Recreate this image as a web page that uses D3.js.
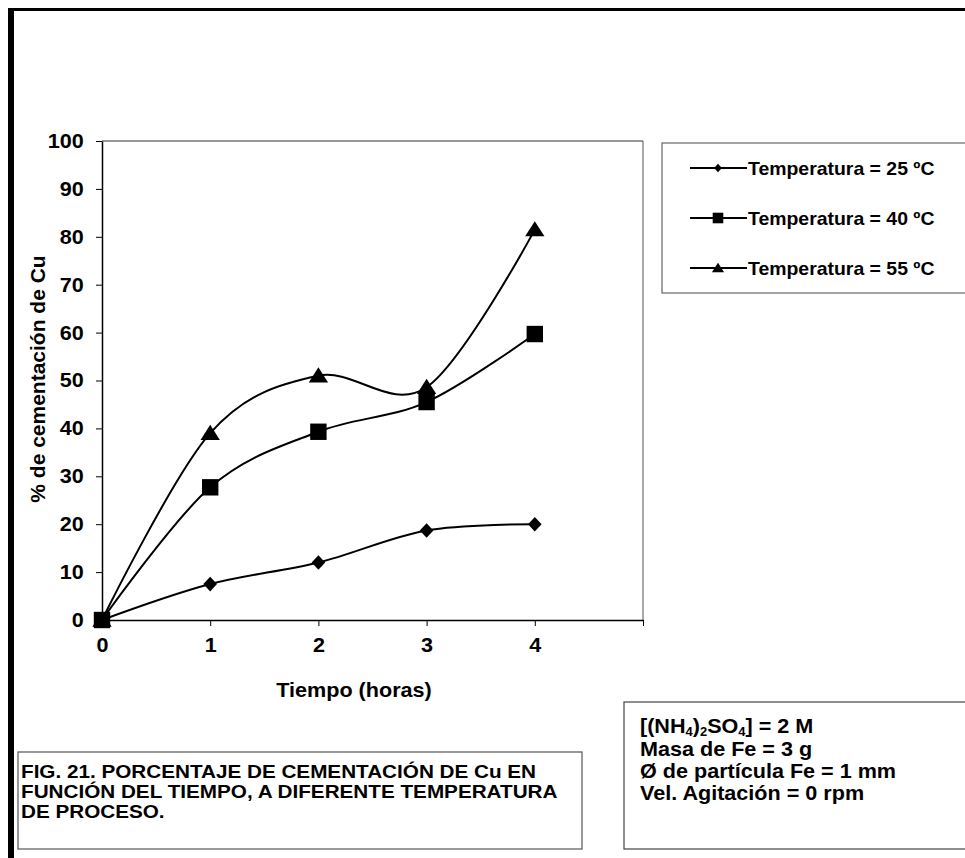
<!DOCTYPE html>
<html>
<head>
<meta charset="utf-8">
<script src="https://cdn.jsdelivr.net/npm/d3@7"></script>
<style>
  body { margin: 0; background: #fff; }
  svg { display: block; font-family: Arial, "Liberation Sans", sans-serif; font-weight: bold; }
</style>
</head>
<body>
<svg id="chart" width="965" height="858"></svg>
<script>
// datos
const tiempo = [0, 1, 2, 3, 4];
const temp25 = [0, 7.5, 12, 18.7, 20];
const temp40 = [0, 27.7, 39.3, 45.5, 59.7];
const temp55 = [0, 39, 51, 48.6, 81.5];
const serieNames = ['Temperatura = 25 ºC', 'Temperatura = 40 ºC', 'Temperatura = 55 ºC'];
const serieMarkers = ['diamond', 'square', 'triangle'];
const xTicks = [0, 1, 2, 3, 4, 5];
const xTickLabels = ['0', '1', '2', '3', '4', ''];
const yTicks = [0, 10, 20, 30, 40, 50, 60, 70, 80, 90, 100];
const captionLines = ['FIG. 21. PORCENTAJE DE CEMENTACIÓN DE Cu EN', 'FUNCIÓN DEL TIEMPO, A DIFERENTE TEMPERATURA', 'DE PROCESO.'];
const infoLines = ['Masa de Fe = 3 g', 'Ø de partícula Fe = 1 mm', 'Vel. Agitación = 0 rpm'];

const series = [temp25, temp40, temp55];
const stretch = 1.08; // el original esta un poco estirado en horizontal

const svg = d3.select('#chart');

// marco exterior
svg.append('rect').attr('x', 8).attr('y', 8).attr('width', 6).attr('height', 850).attr('fill', '#000');
svg.append('rect').attr('x', 8).attr('y', 8).attr('width', 957).attr('height', 3).attr('fill', '#000');

const xScale = d3.scaleLinear().domain([0, 5]).range([102, 643]);
const yScale = d3.scaleLinear().domain([0, 100]).range([620, 141]);

// borde del area de trazado
svg.append('line').attr('x1', 102).attr('x2', 643).attr('y1', 141).attr('y2', 141)
    .attr('stroke', '#333').attr('stroke-width', 1);
svg.append('line').attr('x1', 643).attr('x2', 643).attr('y1', 141).attr('y2', 620)
    .attr('stroke', '#555').attr('stroke-width', 1);

const xAxis = d3.axisBottom(xScale).tickValues(xTicks).tickFormat((d, i) => xTickLabels[i])
    .tickSize(6).tickSizeOuter(0).tickPadding(12);
const gx = svg.append('g').attr('transform', 'translate(0,620)').call(xAxis);

const yAxis = d3.axisLeft(yScale).tickValues(yTicks).tickSize(6).tickSizeOuter(0).tickPadding(11);
const gy = svg.append('g').attr('transform', 'translate(102,0)').call(yAxis);

[gx, gy].forEach(g => {
    g.selectAll('.domain').attr('stroke', '#000').attr('stroke-width', 1.5);
    g.selectAll('.tick line').attr('stroke', '#000').attr('stroke-width', 1);
    g.selectAll('text').attr('font-size', 20).attr('font-weight', 'bold').attr('fill', '#000')
        .attr('font-family', 'Arial, "Liberation Sans", sans-serif')
        .attr('transform', `scale(${stretch},1)`);
});

// etiquetas de ejes
svg.append('text').attr('transform', `translate(354,697) scale(${stretch},1)`)
    .attr('text-anchor', 'middle').attr('font-size', 20).text('Tiempo (horas)');
svg.append('text').attr('transform', 'translate(45,379) rotate(-90)')
    .attr('text-anchor', 'middle').attr('font-size', 21).text('% de cementación de Cu');

// curvas suavizadas
const line = d3.line()
    .x((d, i) => xScale(tiempo[i]))
    .y(d => yScale(d))
    .curve(d3.curveCardinal.tension(0));

const markerPath = (type, s) => {
    if (type === 'diamond') return `M0,${-s}L${s * 0.93},0L0,${s}L${-s * 0.93},0Z`;
    if (type === 'square') return `M${-s},${-s}H${s}V${s}H${-s}Z`;
    return `M0,${-s}L${s * 1.15},${s * 0.8}L${-s * 1.15},${s * 0.8}Z`;
};
const markerSize = { diamond: 7.3, square: 8.2, triangle: 8.4 };
const legendSize = { diamond: 4.2, square: 5.3, triangle: 5.3 };

series.forEach((vals, k) => {
    svg.append('path').datum(vals).attr('d', line)
        .attr('fill', 'none').attr('stroke', '#000').attr('stroke-width', 2);
});
series.forEach((vals, k) => {
    const m = serieMarkers[k];
    svg.append('g').selectAll('path').data(vals).enter().append('path')
        .attr('d', markerPath(m, markerSize[m]))
        .attr('transform', (d, i) => `translate(${xScale(tiempo[i])},${yScale(d)})`)
        .attr('fill', '#000');
});

// leyenda
svg.append('rect').attr('x', 662).attr('y', 143).attr('width', 320).attr('height', 150)
    .attr('fill', 'none').attr('stroke', '#666').attr('stroke-width', 1.2);
serieNames.forEach((name, k) => {
    const yy = 168 + k * 50;
    svg.append('line').attr('x1', 690).attr('x2', 747).attr('y1', yy).attr('y2', yy)
        .attr('stroke', '#000').attr('stroke-width', 2);
    const m = serieMarkers[k];
    svg.append('path').attr('d', markerPath(m, legendSize[m]))
        .attr('transform', `translate(718,${yy})`).attr('fill', '#000');
    svg.append('text').attr('transform', `translate(748,${yy + 6.5}) scale(${stretch},1)`)
        .attr('font-size', 18).text(name);
});

// cuadro de condiciones
svg.append('rect').attr('x', 624).attr('y', 702).attr('width', 360).attr('height', 147)
    .attr('fill', 'none').attr('stroke', '#444').attr('stroke-width', 1.2);
const f1 = svg.append('text').attr('transform', `translate(640,733) scale(${stretch},1)`).attr('font-size', 20);
f1.append('tspan').text('[(NH');
f1.append('tspan').attr('dy', 3).attr('font-size', 12).text('4');
f1.append('tspan').attr('dy', -3).text(')');
f1.append('tspan').attr('dy', 3).attr('font-size', 12).text('2');
f1.append('tspan').attr('dy', -3).text('SO');
f1.append('tspan').attr('dy', 3).attr('font-size', 12).text('4');
f1.append('tspan').attr('dy', -3).text('] = 2 M');
infoLines.forEach((t, i) => {
    svg.append('text').attr('transform', `translate(640,${756 + i * 22}) scale(${stretch},1)`)
        .attr('font-size', 20).text(t);
});

// pie de figura
svg.append('rect').attr('x', 18).attr('y', 752).attr('width', 564).attr('height', 97)
    .attr('fill', 'none').attr('stroke', '#555').attr('stroke-width', 1.2);
captionLines.forEach((t, i) => {
    svg.append('text').attr('transform', `translate(21,${778 + i * 20.2}) scale(1.15,1)`)
        .attr('font-size', 18).text(t);
});
</script>
</body>
</html>
